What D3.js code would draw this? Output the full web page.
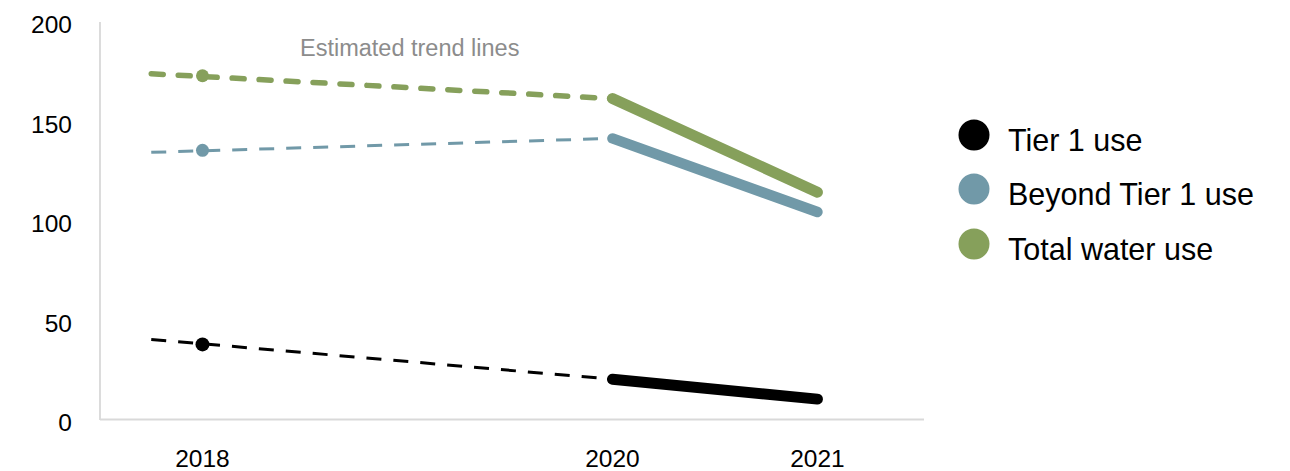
<!DOCTYPE html>
<html><head><meta charset="utf-8">
<script src="https://cdn.jsdelivr.net/npm/d3@7"></script>
<style>body{margin:0;background:#fff}svg{display:block}text{font-family:"Liberation Sans",Arial,sans-serif}</style>
</head><body>
<svg id="chart" width="1290" height="471"></svg>
<script>
const years = [2018, 2020, 2021];
const seriesNames = ["Tier 1 use", "Beyond Tier 1 use", "Total water use"];
const tier1 = [38, 20.5, 10.5];
const beyondTier1 = [135.5, 141.5, 104.5];
const totalUse = [173, 161.5, 114.5];
// estimated trend line start values (read at 2017.75)
const trendStartYear = 2017.75;
const trendStart = [40.5, 134.5, 174];
const yTicks = [0, 50, 100, 150, 200];
const xTickLabels = ["2018", "2020", "2021"];
const colors = ["#000000", "#7199A8", "#86A05B"];

const svg = d3.select("#chart");
const x = d3.scaleLinear().domain([2017.5, 2021.52]).range([100, 924]);
const y = d3.scaleLinear().domain([0, 200]).range([420, 22]);

// axes lines
svg.append("line").attr("x1", 100).attr("x2", 100).attr("y1", y(200)).attr("y2", y(0))
  .attr("stroke", "#c4c4c4").attr("stroke-width", 1.2);
svg.append("line").attr("x1", 100).attr("x2", x(2021.52)).attr("y1", y(0) - 0.5).attr("y2", y(0) - 0.5)
  .attr("stroke", "#d9d9d9").attr("stroke-width", 2);

// y tick labels
svg.append("g").selectAll("text").data(yTicks).join("text")
  .attr("x", 72).attr("y", d => y(d) + 11).attr("text-anchor", "end")
  .attr("font-size", 24.5).attr("fill", "#000").text(d => d);

// x tick labels
svg.append("g").selectAll("text").data(years).join("text")
  .attr("x", d => x(d)).attr("y", 467).attr("text-anchor", "middle")
  .attr("font-size", 24.5).attr("fill", "#000").text((d, i) => xTickLabels[i]);

const seriesVals = [tier1, beyondTier1, totalUse];
const dashWidths = [3, 3, 5.5];
const dashArrays = ["15,12", "15,12", "12,15"];
const dashCaps = ["butt", "butt", "round"];
const solidWidths = [11, 10.5, 11];
const markerR = [7, 6.5, 6.5];
const line = d3.line().x(d => x(d[0])).y(d => y(d[1]));

seriesVals.forEach((vals, i) => {
  const g = svg.append("g");
  // dashed trend line
  g.append("path")
    .attr("d", line([[trendStartYear, trendStart[i]], [years[1], vals[1]]]))
    .attr("fill", "none").attr("stroke", colors[i]).attr("stroke-width", dashWidths[i])
    .attr("stroke-dasharray", dashArrays[i]).attr("stroke-linecap", dashCaps[i]);
  // solid segment
  g.append("path")
    .attr("d", line([[years[1], vals[1]], [years[2], vals[2]]]))
    .attr("fill", "none").attr("stroke", colors[i]).attr("stroke-width", solidWidths[i])
    .attr("stroke-linecap", "round");
  // marker at 2018
  g.append("circle").attr("cx", x(years[0])).attr("cy", y(vals[0])).attr("r", markerR[i])
    .attr("fill", colors[i]);
});

// annotation
svg.append("text").attr("x", 300).attr("y", 56).attr("font-size", 23.5).attr("fill", "#8c8c8c")
  .text("Estimated trend lines");

// legend
const legendY = [135, 189, 244];
const lg = svg.append("g").selectAll("g").data(seriesNames).join("g");
lg.append("circle").attr("cx", 974).attr("cy", (d, i) => legendY[i]).attr("r", 15.5)
  .attr("fill", (d, i) => colors[i]);
lg.append("text").attr("x", 1008).attr("y", (d, i) => legendY[i] + 16)
  .attr("font-size", 30.5).attr("fill", "#000").text(d => d);
</script>
</body></html>
